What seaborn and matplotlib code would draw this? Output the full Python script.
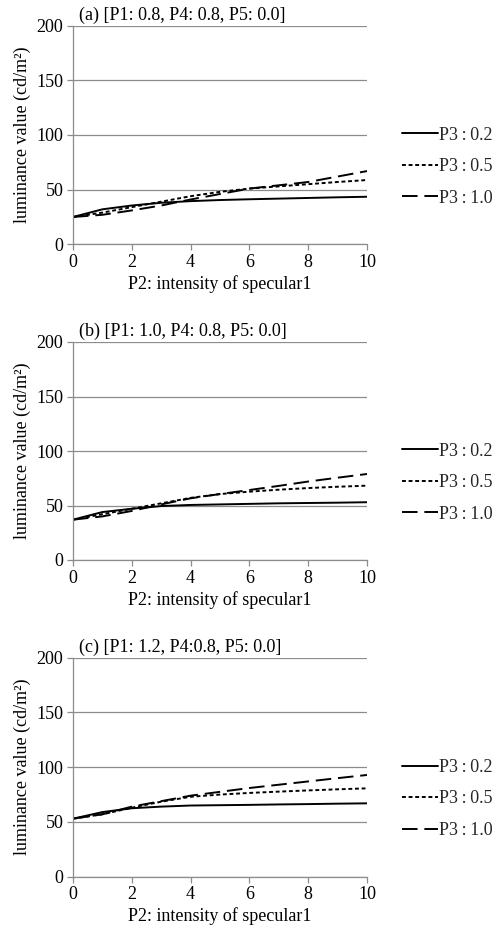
import numpy as np
import pandas as pd
import matplotlib
matplotlib.use("Agg")
import matplotlib.pyplot as plt
import seaborn as sns
from matplotlib.lines import Line2D

sns.set_theme(style="white")
plt.rcParams['font.family'] = ['Liberation Serif', 'DejaVu Serif']

x_vals = [0, 1, 2, 3, 4, 5, 6, 7, 8, 9, 10]
series_names = ["P3\u2009:\u20090.2", "P3\u2009:\u20090.5", "P3\u2009:\u20091.0"]
titles = ["(a) [P1: 0.8, P4: 0.8, P5: 0.0]",
          "(b) [P1: 1.0, P4: 0.8, P5: 0.0]",
          "(c) [P1: 1.2, P4:0.8, P5: 0.0]"]

a_p02 = [25, 32, 35.5, 38, 39.5, 40.5, 41.2, 41.8, 42.4, 43, 43.5]
a_p05 = [25, 29, 34, 39, 44, 48, 51, 53, 55, 57, 58.8]
a_p10 = [25, 27, 31, 35.5, 41, 46, 51, 54, 57, 62, 67]

b_p02 = [37, 44, 47, 49.5, 50.5, 51, 51.5, 52, 52.3, 52.6, 53]
b_p05 = [37, 42, 47, 52, 57, 60.5, 62.7, 64.5, 66, 67.2, 68.2]
b_p10 = [37, 40, 45, 51, 56.6, 60.5, 64.2, 68, 72, 75.5, 78.9]

c_p02 = [53, 59, 62.5, 64, 65, 65.3, 65.6, 66, 66.3, 66.7, 67]
c_p05 = [53, 57, 63, 68.5, 73, 75, 76.5, 77.7, 78.8, 79.8, 80.7]
c_p10 = [53, 57, 64, 69, 74, 77.5, 81, 84, 87, 90, 92.9]

panels = [(a_p02, a_p05, a_p10), (b_p02, b_p05, b_p10), (c_p02, c_p05, c_p10)]

dot_d = (2, 1.4)
dash_d = (8, 3.5)
dashes = {series_names[0]: "", series_names[1]: dot_d, series_names[2]: dash_d}

fig = plt.figure(figsize=(4.95, 9.35), dpi=100)
axes_pos = [
    [73/495, 1-244.3/935, 294/495, 218.6/935],
    [73/495, 1-560/935, 294/495, 218/935],
    [73/495, 1-876.7/935, 294/495, 219/935],
]
grid_c = "#8c8c8c"
fs = 13

for i, (vals, title, pos) in enumerate(zip(panels, titles, axes_pos)):
    ax = fig.add_axes(pos)
    rows = []
    for name, v in zip(series_names, vals):
        for xx, yy in zip(x_vals, v):
            rows.append({"x": xx, "y": yy, "series": name})
    df = pd.DataFrame(rows)
    sns.lineplot(data=df, x="x", y="y", style="series", dashes=dashes,
                 color="black", linewidth=1.4, ax=ax, legend=False)
    ax.set_xlim(0, 10)
    ax.set_ylim(0, 200)
    ax.set_xticks([0, 2, 4, 6, 8, 10])
    ax.set_yticks([0, 50, 100, 150, 200])
    ax.yaxis.grid(True, color=grid_c, linewidth=0.9)
    ax.xaxis.grid(False)
    for s in ["top", "right"]:
        ax.spines[s].set_visible(False)
    for s in ["left", "bottom"]:
        ax.spines[s].set_color(grid_c)
        ax.spines[s].set_linewidth(0.9)
    ax.tick_params(axis="both", which="major", direction="out", length=4,
                   width=0.9, color=grid_c, labelsize=fs, labelcolor="black",
                   bottom=True, left=True, pad=3)
    ax.set_xlabel("P2: intensity of specular1", fontsize=fs, color="black", labelpad=3)
    ax.set_ylabel("luminance value (cd/m²)", fontsize=fs, color="black", labelpad=4)
    ax.text(0.02, 1.01, title, transform=ax.transAxes, fontsize=fs,
            ha="left", va="bottom", color="black")
    handles = [Line2D([], [], color="black", linewidth=1.4, linestyle="-"),
               Line2D([], [], color="black", linewidth=1.4, dashes=dot_d),
               Line2D([], [], color="black", linewidth=1.4, dashes=dash_d)]
    ax.legend(handles, series_names, loc="center left",
              bbox_to_anchor=((402 - 73) / 294, 0.355), frameon=False, fontsize=fs,
              handlelength=2.0, handletextpad=0.05, labelspacing=0.8,
              borderpad=0, borderaxespad=0)

fig.savefig("out.png", dpi=100, facecolor="white")
